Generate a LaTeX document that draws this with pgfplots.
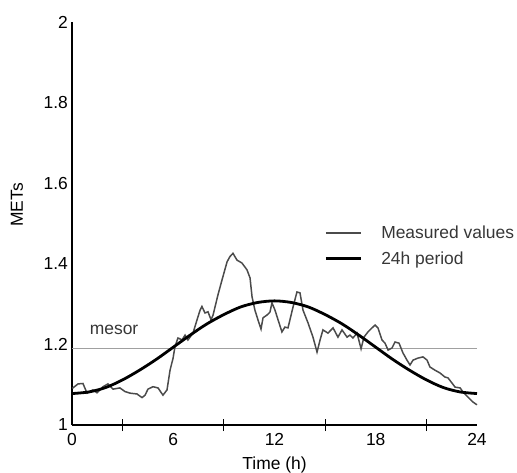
\documentclass[border=0pt]{standalone}
\usepackage{fontspec}
\setmainfont{Liberation Sans}
\usepackage{pgfplots}
\pgfplotsset{compat=1.18}

\definecolor{measgray}{RGB}{75,75,75}
\definecolor{mesorgray}{RGB}{160,160,160}
\definecolor{textgray}{RGB}{55,55,55}

% measured METs over the day (traced)
\pgfplotstableread{
t v
0.02 1.091
0.36 1.102
0.65 1.103
0.89 1.079
1.24 1.087
1.48 1.080
1.84 1.095
2.13 1.102
2.43 1.089
2.84 1.092
3.14 1.083
3.44 1.079
3.85 1.077
4.15 1.068
4.33 1.074
4.50 1.089
4.80 1.095
5.10 1.092
5.39 1.074
5.63 1.087
5.81 1.136
5.99 1.166
6.10 1.194
6.28 1.216
6.52 1.211
6.70 1.223
6.87 1.211
7.17 1.228
7.41 1.261
7.59 1.285
7.70 1.294
7.88 1.278
8.06 1.281
8.24 1.261
8.36 1.273
8.65 1.323
8.89 1.360
9.19 1.405
9.36 1.418
9.54 1.426
9.78 1.409
10.07 1.402
10.37 1.385
10.55 1.365
10.67 1.318
10.84 1.285
11.02 1.261
11.20 1.238
11.32 1.266
11.56 1.273
11.73 1.280
11.85 1.303
12.03 1.285
12.21 1.261
12.44 1.231
12.62 1.243
12.80 1.241
13.10 1.293
13.33 1.330
13.51 1.328
13.69 1.285
13.99 1.253
14.28 1.218
14.52 1.181
14.70 1.211
14.87 1.236
15.17 1.228
15.47 1.241
15.76 1.218
16.00 1.236
16.30 1.218
16.47 1.223
16.65 1.216
16.89 1.228
17.13 1.189
17.30 1.218
17.54 1.231
17.78 1.241
17.96 1.248
18.13 1.241
18.37 1.211
18.55 1.203
18.73 1.186
18.96 1.191
19.14 1.206
19.38 1.203
19.61 1.179
19.85 1.161
20.03 1.149
20.21 1.161
20.50 1.166
20.80 1.169
21.04 1.161
21.21 1.144
21.51 1.136
21.81 1.129
22.10 1.119
22.28 1.117
22.52 1.104
22.70 1.094
23.00 1.092
23.17 1.082
23.47 1.069
23.76 1.057
24.00 1.050
}\measured

% fitted 24h cosinor curve
\pgfplotstableread{
t v
0 1.078
1 1.082
2 1.093
3 1.112
4 1.136
5 1.163
6 1.193
7 1.223
8 1.251
9 1.274
10 1.293
11 1.304
12 1.308
13 1.304
14 1.293
15 1.274
16 1.251
17 1.223
18 1.193
19 1.163
20 1.136
21 1.112
22 1.093
23 1.082
24 1.078
}\cosinor

\begin{document}
\begin{tikzpicture}
\begin{axis}[
    scale only axis,
    width=405bp, height=403bp,
    xmin=0, xmax=24, ymin=1, ymax=2,
    axis x line=bottom, axis y line=left,
    axis line style={-, line width=1.1bp, black},
    xtick={0,6,12,18,24},
    minor xtick={3,9,15,21},
    ytick={1,1.2,1.4,1.6,1.8,2},
    major tick length=0pt,
    minor tick length=12bp,
    tick align=center,
    tick style={line width=1.1bp, black},
    /pgf/number format/assume math mode=true,
    ticklabel style={font=\fontsize{17.5}{20}\selectfont, inner sep=0pt},
    yticklabel style={xshift=-4bp},
    xticklabel style={yshift=-8bp},
    xlabel={Time (h)}, ylabel={METs},
    every axis x label/.style={at={(axis description cs:0.5,-0.099)}, anchor=center,
        font=\fontsize{17.5}{20}\selectfont},
    every axis y label/.style={at={(axis description cs:-0.136,0.546)}, anchor=center, rotate=90,
        font=\fontsize{17.5}{20}\selectfont},
    legend style={draw=none, fill=none, at={(axis cs:14.95,1.5)}, anchor=north west,
        font=\fontsize{17.5}{20}\selectfont, text=textgray, row sep=8bp, inner sep=0pt,
        /tikz/every odd column/.style={column sep=17bp}},
    legend image code/.code={\draw[#1] (0bp,0bp) -- (35bp,0bp);},
    legend cell align=left,
    clip=false,
]
\addplot[mesorgray, line width=1bp, forget plot] coordinates {(0,1.19) (24,1.19)};
\addplot[measgray, line width=1.5bp] table[x=t, y=v] {\measured};
\addlegendentry{Measured values}
\addplot[black, line width=2.8bp, smooth] table[x=t, y=v] {\cosinor};
\addlegendentry{24h period}
\node[anchor=west, text=textgray, font=\fontsize{17.5}{20}\selectfont] at (axis cs:0.85,1.236) {mesor};
\coordinate (O) at (rel axis cs:0,0);
\coordinate (E) at (rel axis cs:1,1);
\end{axis}
\pgfresetboundingbox
\path[use as bounding box] ([shift={(-72bp,-48bp)}]O) rectangle ([shift={(40bp,22bp)}]E);
\end{tikzpicture}
\end{document}
